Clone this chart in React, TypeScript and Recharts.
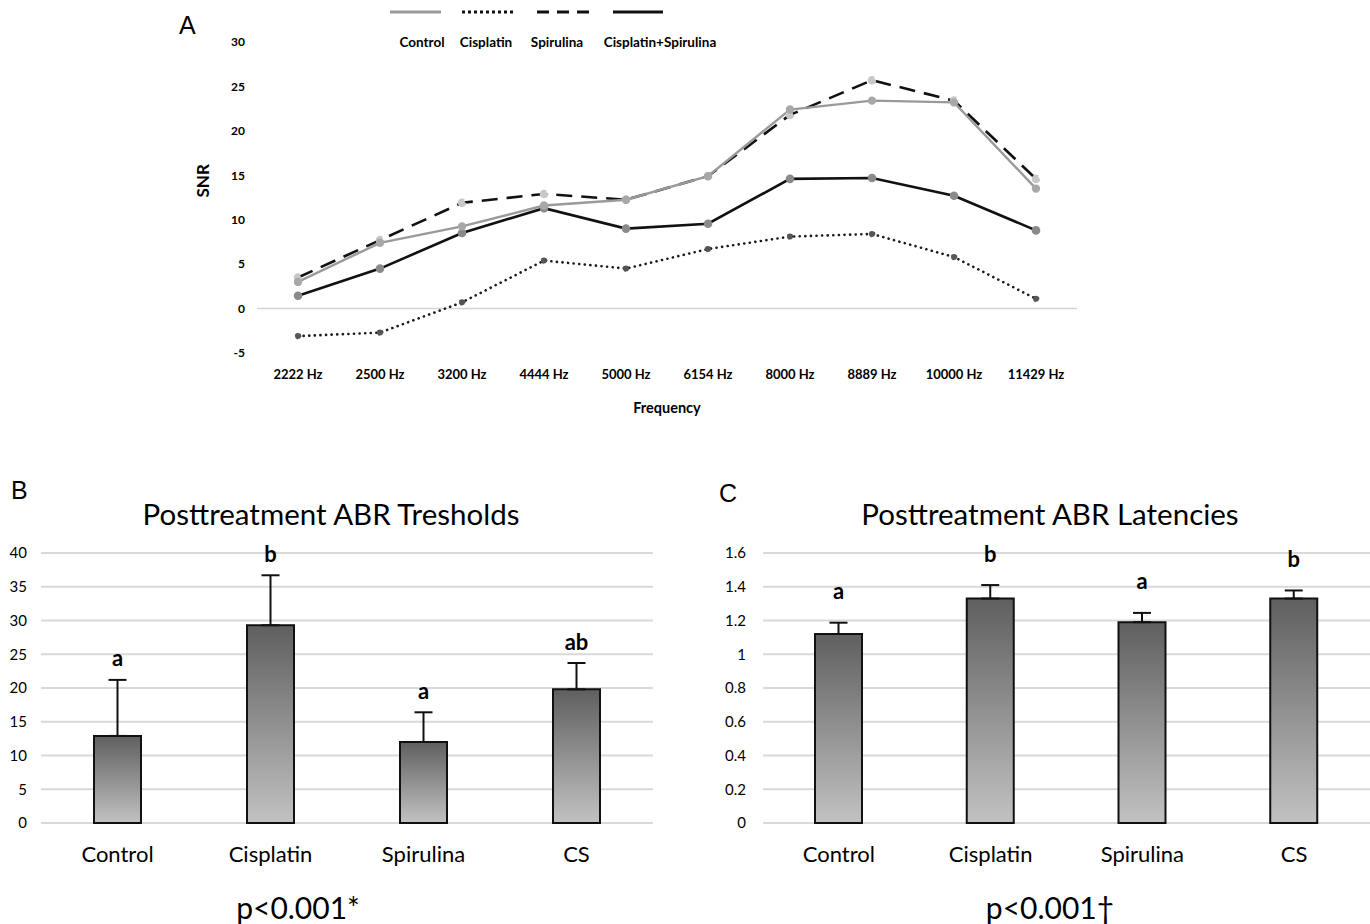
import React from "react";
import {
  LineChart,
  Line,
  XAxis,
  YAxis,
  ReferenceLine,
  Legend,
  BarChart,
  Bar,
  ErrorBar,
  CartesianGrid,
  LabelList,
} from "recharts";

// Panel A: SNR per frequency
const frequencies = ["2222 Hz", "2500 Hz", "3200 Hz", "4444 Hz", "5000 Hz", "6154 Hz", "8000 Hz", "8889 Hz", "10000 Hz", "11429 Hz"];
const snrControl = [3.0, 7.4, 9.25, 11.6, 12.25, 14.9, 22.4, 23.4, 23.2, 13.5];
const snrCisplatin = [-3.1, -2.7, 0.7, 5.4, 4.5, 6.7, 8.1, 8.4, 5.8, 1.1];
const snrSpirulina = [3.5, 7.7, 11.9, 12.9, 12.25, 14.9, 21.8, 25.7, 23.4, 14.6];
const snrCombo = [1.45, 4.5, 8.5, 11.3, 9.0, 9.55, 14.6, 14.7, 12.7, 8.8];
const snrTicks = [-5, 0, 5, 10, 15, 20, 25, 30];

// Panels B and C
const groups = ["Control", "Cisplatin", "Spirulina", "CS"];
const thresholdMean = [12.9, 29.3, 12.0, 19.8];
const thresholdErr = [8.3, 7.4, 4.4, 3.9];
const thresholdLetters = ["a", "b", "a", "ab"];
const thresholdTicks = [0, 5, 10, 15, 20, 25, 30, 35, 40];

const latencyMean = [1.12, 1.33, 1.19, 1.33];
const latencyErr = [0.067, 0.08, 0.055, 0.048];
const latencyLetters = ["a", "b", "a", "b"];
const latencyTicks = [0, 0.2, 0.4, 0.6, 0.8, 1, 1.2, 1.4, 1.6];

const FONT = "Lato, 'Open Sans', sans-serif";

const snrData = frequencies.map((f, i) => ({
  freq: f,
  control: snrControl[i],
  cisplatin: snrCisplatin[i],
  spirulina: snrSpirulina[i],
  combo: snrCombo[i],
}));

const thresholdData = groups.map((g, i) => ({ group: g, mean: thresholdMean[i], err: [0, thresholdErr[i]] }));
const latencyData = groups.map((g, i) => ({ group: g, mean: latencyMean[i], err: [0, latencyErr[i]] }));

const legendItems = [
  { name: "Control", stroke: "#999", dash: undefined, lx: [10, 61], tx: 42 },
  { name: "Cisplatin", stroke: "#111", dash: "3 3", lx: [82, 135], tx: 106 },
  { name: "Spirulina", stroke: "#111", dash: "12 8", lx: [157, 213], tx: 177 },
  { name: "Cisplatin+Spirulina", stroke: "#111", dash: undefined, lx: [233, 283], tx: 280 },
];

function SnrLegend() {
  return (
    <svg width={360} height={56} style={{ overflow: "visible" }}>
      {legendItems.map((it) => (
        <g key={it.name}>
          <line x1={it.lx[0]} x2={it.lx[1]} y1={12} y2={12} stroke={it.stroke} strokeWidth={3} strokeDasharray={it.dash} />
          <text x={it.tx} y={47} textAnchor="middle" fontFamily={FONT} fontWeight={700} fontSize={13.5} fill="#000">
            {it.name}
          </text>
        </g>
      ))}
    </svg>
  );
}

const makeLetterLabel = (errs: number[], letters: string[], gap: number) => (props: any) => {
  const { x, y, width, height, index, value } = props;
  const pxPerUnit = height / value;
  const top = y - errs[index] * pxPerUnit - gap;
  return (
    <text x={x + width / 2} y={top} textAnchor="middle" dominantBaseline="central" fontFamily={FONT} fontWeight={700} fontSize={22} fill="#000">
      {letters[index]}
    </text>
  );
};

function GradDefs({ id }: { id: string }) {
  return (
    <defs>
      <linearGradient id={id} x1="0" y1="0" x2="0" y2="1">
        <stop offset="0%" stopColor="#5f5f5f" />
        <stop offset="100%" stopColor="#c2c2c2" />
      </linearGradient>
    </defs>
  );
}

const abs = (left: number, top: number, extra: React.CSSProperties = {}): React.CSSProperties => ({
  position: "absolute",
  left,
  top,
  fontFamily: FONT,
  color: "#000",
  lineHeight: 1,
  ...extra,
});

export default function App() {
  return (
    <div style={{ position: "absolute", left: 0, top: 0, width: 1370, height: 924, background: "#fff", overflow: "hidden" }}>
      <div style={abs(179, 13, { fontFamily: "'Liberation Sans', Arial, sans-serif", fontSize: 25 })}>A</div>
      <div style={abs(11, 478, { fontFamily: "'Liberation Sans', Arial, sans-serif", fontSize: 25 })}>B</div>
      <div style={abs(719, 481, { fontFamily: "'Liberation Sans', Arial, sans-serif", fontSize: 25 })}>C</div>

      <div style={{ position: "absolute", left: 0, top: 0 }}>
        <LineChart width={1370} height={430} data={snrData} margin={{ top: 42, right: 293, bottom: 47, left: 197 }}>
          <XAxis
            dataKey="freq"
            axisLine={false}
            tickLine={false}
            height={30}
            padding={{ left: 41, right: 41 }}
            tickMargin={11}
            tick={{ fontSize: 13, fontWeight: 700, fill: "#000", fontFamily: FONT }}
            label={{ value: "Frequency", position: "bottom", offset: 20, fontSize: 14.5, fontWeight: 700, fill: "#000", fontFamily: FONT }}
          />
          <YAxis
            width={60}
            domain={[-5, 30]}
            ticks={snrTicks}
            axisLine={false}
            tickLine={false}
            tickMargin={6}
            tick={{ fontSize: 12, fontWeight: 700, fill: "#000", fontFamily: FONT }}
            label={{ value: "SNR", angle: -90, position: "insideLeft", offset: 6, fontSize: 17, fontWeight: 700, fill: "#000", fontFamily: FONT }}
          />
          <ReferenceLine y={0} stroke="#d4d4d4" strokeWidth={1.5} />
          <Legend
            layout="vertical"
            align="center"
            verticalAlign="middle"
            content={() => <SnrLegend />}
            wrapperStyle={{ position: "absolute", left: 380, top: 0, width: 360, height: 56 }}
          />
          <Line dataKey="cisplatin" stroke="#1a1a1a" strokeWidth={2.6} strokeDasharray="0.1 5.5" strokeLinecap="round" dot={{ r: 3, fill: "#555", stroke: "#333", strokeWidth: 1 }} isAnimationActive={false} />
          <Line dataKey="combo" stroke="#111" strokeWidth={2.6} dot={{ r: 3, fill: "#8a8a8a", stroke: "#8a8a8a" }} isAnimationActive={false} />
          <Line dataKey="spirulina" stroke="#111" strokeWidth={2.6} strokeDasharray="16 9" dot={{ r: 3, fill: "#c8c8c8", stroke: "#c8c8c8" }} isAnimationActive={false} />
          <Line dataKey="control" stroke="#9a9a9a" strokeWidth={2.4} dot={{ r: 3, fill: "#a8a8a8", stroke: "#a8a8a8" }} isAnimationActive={false} />
        </LineChart>
      </div>

      <div style={abs(131, 499, { width: 400, textAlign: "center", fontSize: 29.5 })}>Posttreatment ABR Tresholds</div>
      <div style={abs(850, 499, { width: 400, textAlign: "center", fontSize: 29.5 })}>Posttreatment ABR Latencies</div>
      <div style={abs(198, 892, { width: 200, textAlign: "center", fontSize: 30 })}>p&lt;0.001*</div>
      <div style={abs(950, 892, { width: 200, textAlign: "center", fontSize: 30 })}>p&lt;0.001†</div>

      <div style={{ position: "absolute", left: 0, top: 540 }}>
        <BarChart width={670} height={340} data={thresholdData} margin={{ top: 13, right: 17, bottom: 7, left: 0 }}>
          <GradDefs id="gradB" />
          <CartesianGrid vertical={false} stroke="#d9d9d9" strokeWidth={2} />
          <XAxis dataKey="group" axisLine={false} tickLine={false} height={50} tickMargin={17} tick={{ fontSize: 22, fill: "#000", fontFamily: FONT }} />
          <YAxis width={41} domain={[0, 40]} ticks={thresholdTicks} axisLine={false} tickLine={false} tickMargin={8} tick={{ fontSize: 15, fill: "#000", fontFamily: FONT }} />
          <Bar dataKey="mean" barSize={47} fill="url(#gradB)" stroke="#111" strokeWidth={2} isAnimationActive={false}>
            <ErrorBar dataKey="err" direction="y" width={9} stroke="#111" strokeWidth={2} isAnimationActive={false} />
            <LabelList dataKey="mean" content={makeLetterLabel(thresholdErr, thresholdLetters, 22)} />
          </Bar>
        </BarChart>
      </div>

      <div style={{ position: "absolute", left: 690, top: 540 }}>
        <BarChart width={680} height={340} data={latencyData} margin={{ top: 13, right: 0, bottom: 7, left: 0 }}>
          <GradDefs id="gradC" />
          <CartesianGrid vertical={false} stroke="#d9d9d9" strokeWidth={2} />
          <XAxis dataKey="group" axisLine={false} tickLine={false} height={50} tickMargin={17} tick={{ fontSize: 22, fill: "#000", fontFamily: FONT }} />
          <YAxis width={73} domain={[0, 1.6]} ticks={latencyTicks} axisLine={false} tickLine={false} tickMargin={11} tick={{ fontSize: 15, fill: "#000", fontFamily: FONT }} />
          <Bar dataKey="mean" barSize={47} fill="url(#gradC)" stroke="#111" strokeWidth={2} isAnimationActive={false}>
            <ErrorBar dataKey="err" direction="y" width={9} stroke="#111" strokeWidth={2} isAnimationActive={false} />
            <LabelList dataKey="mean" content={makeLetterLabel(latencyErr, latencyLetters, 32)} />
          </Bar>
        </BarChart>
      </div>
    </div>
  );
}
